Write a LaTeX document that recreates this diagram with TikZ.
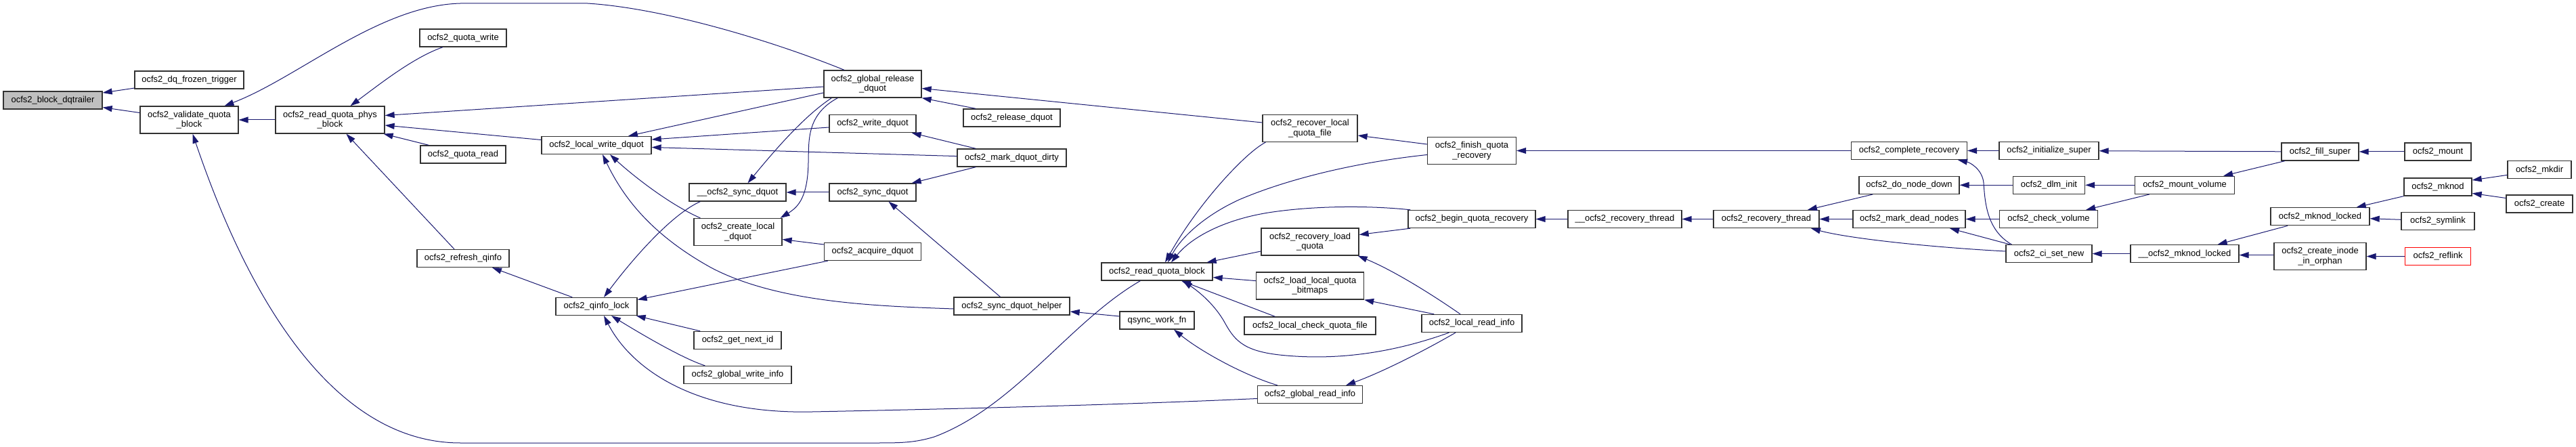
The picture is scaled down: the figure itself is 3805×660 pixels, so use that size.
\documentclass[tikz,border=0pt]{standalone}
\usepackage{fontspec}
\setmainfont{Liberation Sans}
\usetikzlibrary{arrows.meta,calc}
\definecolor{edgec}{RGB}{25,25,112}
\definecolor{boxc}{RGB}{50,50,50}
\definecolor{hilite}{RGB}{191,191,191}
\newcommand\nodefont{\fontsize{13}{14.5}\selectfont}
\newcommand\mkbox[7][]{\node[box,#1,minimum width=#5pt,minimum height=#6pt] (#2) at (#3,#4) {#7};}
\begin{document}
\begin{tikzpicture}[x=1pt,y=-1pt,
  box/.style={draw=boxc,line width=1.3pt,fill=white,inner sep=0pt,font=\nodefont,align=center},
  edge/.style={draw=edgec,line width=1pt,-{Triangle[length=14pt,width=9pt]}}]
\useasboundingbox (0,0) rectangle (3805,660);
% nodes
\mkbox[fill=hilite]{dqtr}{78}{148}{146}{26}{ocfs2\_block\_dqtrailer}
\mkbox{frozen}{279.5}{118}{161}{26}{ocfs2\_dq\_frozen\_trigger}
\mkbox{validate}{279.5}{177}{145}{40}{ocfs2\_validate\_quota\\\_block}
\mkbox{phys}{487.5}{177}{161}{40}{ocfs2\_read\_quota\_phys\\\_block}
\mkbox{qwrite}{684}{56}{128}{26}{ocfs2\_quota\_write}
\mkbox{qread}{684}{228}{126}{26}{ocfs2\_quota\_read}
\mkbox{refresh}{684}{381.5}{136}{26}{ocfs2\_refresh\_qinfo}
\mkbox{lwd}{881}{214.5}{162}{26}{ocfs2\_local\_write\_dquot}
\mkbox{qlock}{881}{452.5}{120}{26}{ocfs2\_qinfo\_lock}
\mkbox{usync}{1089.5}{284}{143}{26}{\_\_ocfs2\_sync\_dquot}
\mkbox{cld}{1090}{342.5}{130}{40}{ocfs2\_create\_local\\\_dquot}
\mkbox{gnext}{1089.5}{502.5}{129}{26}{ocfs2\_get\_next\_id}
\mkbox{gwinfo}{1089.5}{553.5}{159}{26}{ocfs2\_global\_write\_info}
\mkbox{grel}{1289}{124}{144}{40}{ocfs2\_global\_release\\\_dquot}
\mkbox{wdq}{1289}{182.5}{128}{26}{ocfs2\_write\_dquot}
\mkbox{sdq}{1289}{284}{128}{26}{ocfs2\_sync\_dquot}
\mkbox{acq}{1289}{371.5}{143}{26}{ocfs2\_acquire\_dquot}
\mkbox{reld}{1494.5}{174}{143}{26}{ocfs2\_release\_dquot}
\mkbox{mdd}{1494.5}{233}{161}{26}{ocfs2\_mark\_dquot\_dirty}
\mkbox{sdh}{1494.5}{452}{171}{26}{ocfs2\_sync\_dquot\_helper}
\mkbox{rqb}{1709}{401}{164}{26}{ocfs2\_read\_quota\_block}
\mkbox{qsync}{1709}{473}{110}{26}{qsync\_work\_fn}
\mkbox{rlqf}{1935}{189.5}{140}{40}{ocfs2\_recover\_local\\\_quota\_file}
\mkbox{rlq}{1935}{357}{144}{40}{ocfs2\_recovery\_load\\\_quota}
\mkbox{llqb}{1935}{422}{159}{40}{ocfs2\_load\_local\_quota\\\_bitmaps}
\mkbox{lcqf}{1935}{481}{194}{26}{ocfs2\_local\_check\_quota\_file}
\mkbox{gri}{1935}{582.5}{155}{26}{ocfs2\_global\_read\_info}
\mkbox{fqr}{2174}{222.5}{131}{40}{ocfs2\_finish\_quota\\\_recovery}
\mkbox{bqr}{2174}{323.5}{188}{26}{ocfs2\_begin\_quota\_recovery}
\mkbox{lri}{2174}{477.5}{148}{26}{ocfs2\_local\_read\_info}
\mkbox{urt}{2400}{323.5}{168}{26}{\_\_ocfs2\_recovery\_thread}
\mkbox{rt}{2609}{323.5}{156}{26}{ocfs2\_recovery\_thread}
\mkbox{cr}{2820}{222.5}{171}{26}{ocfs2\_complete\_recovery}
\mkbox{dnd}{2820}{273.3}{148}{26}{ocfs2\_do\_node\_down}
\mkbox{mdn}{2820}{323.5}{166}{26}{ocfs2\_mark\_dead\_nodes}
\mkbox{isup}{3026.5}{222.5}{147}{26}{ocfs2\_initialize\_super}
\mkbox{dlm}{3026.5}{273.3}{106}{26}{ocfs2\_dlm\_init}
\mkbox{cv}{3026}{323.5}{145}{26}{ocfs2\_check\_volume}
\mkbox{csn}{3026.5}{374.6}{127}{26}{ocfs2\_ci\_set\_new}
\mkbox{mv}{3227}{273.3}{147}{26}{ocfs2\_mount\_volume}
\mkbox{umk}{3227}{374.6}{160}{26}{\_\_ocfs2\_mknod\_locked}
\mkbox{fs}{3427}{224}{114}{26}{ocfs2\_fill\_super}
\mkbox{mkl}{3427}{319.7}{146}{26}{ocfs2\_mknod\_locked}
\mkbox{cio}{3427}{378.6}{136}{40}{ocfs2\_create\_inode\\\_in\_orphan}
\mkbox{mnt}{3601}{224}{98}{26}{ocfs2\_mount}
\mkbox{mkn}{3601}{276}{100}{26}{ocfs2\_mknod}
\mkbox{sym}{3601}{326.3}{108}{26}{ocfs2\_symlink}
\mkbox[draw=red]{rfl}{3601}{378.5}{97}{26}{ocfs2\_reflink}
\mkbox{mkd}{3751}{250.7}{94}{26}{ocfs2\_mkdir}
\mkbox{crt}{3751}{301}{98}{26}{ocfs2\_create}
% edges
\draw[edge] (frozen) -- (dqtr);
\draw[edge] (validate) -- (dqtr);
\draw[edge] (phys) -- (validate);
\draw[edge] ($(grel.north)+(-42,0)$) .. controls (1140,60) and (980,12) .. (868,5) -- (680,5) .. controls (560,8) and (440,115) .. ($(validate.north)+(52,0)$);
\draw[edge] ($(rqb.south west)+(58,0)$) .. controls (1580,475) and (1500,600) .. (1380,645) .. controls (1350,654) and (1330,654) .. (1290,654) -- (680,654) .. controls (450,654) and (330,330) .. ($(validate.south)+(5,0)$);
\draw[edge] ($(qwrite.south)+(-30,0)$) .. controls (610,85) and (560,125) .. ($(phys.north)+(30,0)$);
\draw[edge] ($(grel.west)+(0,4)$) -- ($(phys.east)+(0,-6.5)$);
\draw[edge] ($(lwd.west)+(0,-8)$) -- ($(phys.east)+(0,8)$);
\draw[edge] ($(qread.north west)+(13,0)$) -- ($(phys.south east)+(-2,0)$);
\draw[edge] ($(refresh.north)+(-13,0)$) -- ($(phys.south)+(24,0)$);
\draw[edge] ($(grel.west)+(0,13)$) -- ($(lwd.north)+(47,0)$);
\draw[edge] ($(wdq.west)+(0,5.5)$) -- ($(lwd.east)+(0,-8.5)$);
\draw[edge] ($(mdd.west)+(0,-2.4)$) -- ($(lwd.east)+(0,3)$);
\draw[edge] ($(cld.north west)+(10,0)$) .. controls (985,300) and (930,255) .. ($(lwd.south)+(20,0)$);
\draw[edge] ($(sdh.west)+(0,4)$) .. controls (1300,452) and (1150,448) .. (1050,395) .. controls (960,345) and (920,290) .. ($(lwd.south)+(9,0)$);
\draw[edge] ($(grel.south west)+(12,0)$) .. controls (1190,170) and (1150,215) .. ($(usync.north)+(15,0)$);
\draw[edge] ($(grel.south west)+(21,0)$) .. controls (1190,170) and (1195,210) .. (1194,240) .. controls (1193,290) and (1180,305) .. ($(cld.north east)+(-3,0)$);
\draw[edge] (sdq) -- (usync);
\draw[edge] ($(acq.west)+(0,-10.5)$) -- ($(cld.east)+(0,11)$);
\draw[edge] ($(usync.south west)+(17,0)$) .. controls (995,315) and (940,375) .. ($(qlock.north)+(11,0)$);
\draw[edge] ($(acq.south west)+(6,0)$) -- ($(qlock.east)+(0,-10)$);
\draw[edge] ($(gnext.north west)+(10,0)$) -- ($(qlock.south east)+(-2,0)$);
\draw[edge] ($(gwinfo.north west)+(32,0)$) .. controls (1010,530) and (950,495) .. ($(qlock.south)+(22,0)$);
\draw[edge] ($(gri.west)+(0,6)$) .. controls (1650,598) and (1400,604) .. (1200,608) .. controls (1020,612) and (930,540) .. ($(qlock.south)+(11,0)$);
\draw[edge] ($(qlock.north west)+(25,0)$) -- ($(refresh.south)+(43,0)$);
\draw[edge] ($(mdd.north west)+(28,0)$) -- ($(wdq.south east)+(-7,0)$);
\draw[edge] ($(mdd.south west)+(28,0)$) -- ($(sdq.north east)+(-7,0)$);
\draw[edge] ($(reld.north west)+(19,0)$) -- (grel.south east);
\draw[edge] ($(rlqf.west)+(0,-8.5)$) -- ($(grel.east)+(0,6.5)$);
\draw[edge] ($(sdh.north)+(-17,0)$) -- ($(sdq.south)+(23.5,0)$);
\draw[edge] ($(qsync.west)+(0,-6)$) -- ($(sdh.east)+(0,8)$);
\draw[edge] ($(gri.north west)+(30,0)$) .. controls (1840,555) and (1775,520) .. ($(qsync.south)+(25,0)$);
\draw[edge] ($(rlqf.south west)+(5,0)$) .. controls (1840,225) and (1770,300) .. ($(rqb.north)+(12,0)$);
\draw[edge] ($(fqr.west)+(0,6)$) .. controls (2000,240) and (1900,265) .. (1830,295) .. controls (1780,318) and (1745,350) .. ($(rqb.north)+(16,0)$);
\draw[edge] ($(bqr.north west)+(4,0)$) .. controls (2030,304) and (1950,303) .. (1880,313) .. controls (1810,323) and (1760,350) .. ($(rqb.north)+(21,0)$);
\draw[edge] ($(rlq.west)+(0,14)$) -- ($(rqb.north east)+(-9,0)$);
\draw[edge] ($(llqb.west)+(0,-7.4)$) -- ($(rqb.east)+(0,8.5)$);
\draw[edge] ($(lcqf.north west)+(46,0)$) -- ($(rqb.south)+(36,0)$);
\draw[edge] ($(lri.south west)+(41,0)$) .. controls (2060,520) and (1980,532) .. (1900,525) .. controls (1840,520) and (1825,505) .. (1810,478) .. controls (1795,450) and (1770,430) .. ($(rqb.south)+(38,0)$);
\draw[edge] ($(fqr.west)+(0,-9.5)$) -- ($(rlqf.east)+(0,10.5)$);
\draw[edge] (cr) -- (fqr);
\draw[edge] ($(bqr.south west)+(4,0)$) -- ($(rlq.east)+(0,-10.5)$);
\draw[edge] ($(lri.north)+(-17,0)$) .. controls (2120,438) and (2060,400) .. ($(rlq.south east)+(-2,0)$);
\draw[edge] ($(lri.north west)+(19,0)$) -- (llqb.south east);
\draw[edge] ($(lri.south)+(-24,0)$) .. controls (2100,520) and (2040,550) .. ($(gri.north east)+(-25,0)$);
\draw[edge] (urt) -- (bqr);
\draw[edge] (rt) -- (urt);
\draw[edge] ($(dnd.south west)+(21,0)$) -- ($(rt.north)+(61,0)$);
\draw[edge] (mdn) -- (rt);
\draw[edge] ($(csn.west)+(0,-3.6)$) .. controls (2850,365) and (2730,352) .. ($(rt.south)+(66,0)$);
\draw[edge] ($(csn.north west)+(6.6,0)$) -- ($(mdn.south)+(60,0)$);
\draw[edge] ($(csn.north west)+(9,0)$) .. controls (2935,340) and (2932,300) .. (2930,270) .. controls (2928,250) and (2910,240) .. ($(cr.south)+(72,0)$);
\draw[edge] (isup) -- (cr);
\draw[edge] (dlm) -- (dnd);
\draw[edge] (cv) -- (mdn);
\draw[edge] (umk) -- (csn);
\draw[edge] (mv) -- (dlm);
\draw[edge] ($(mv.south west)+(22,0)$) -- ($(cv.north east)+(-18,0)$);
\draw[edge] (fs) -- (isup);
\draw[edge] ($(fs.south west)+(5.6,0)$) -- ($(mv.north east)+(-17,0)$);
\draw[edge] (mnt) -- (fs);
\draw[edge] ($(mkl.south west)+(25.7,0)$) -- ($(umk.north east)+(-32,0)$);
\draw[edge] ($(cio.west)+(0,-2)$) -- ($(umk.east)+(0,2)$);
\draw[edge] (mkn.south west) -- ($(mkl.north east)+(-20,0)$);
\draw[edge] ($(sym.west)+(0,-2)$) -- ($(mkl.east)+(0,3)$);
\draw[edge] (rfl) -- (cio);
\draw[edge] ($(mkd.west)+(0,7.7)$) -- ($(mkn.east)+(0,-10)$);
\draw[edge] ($(crt.west)+(0,-8.5)$) -- ($(mkn.east)+(0,9.4)$);
\end{tikzpicture}
\end{document}
